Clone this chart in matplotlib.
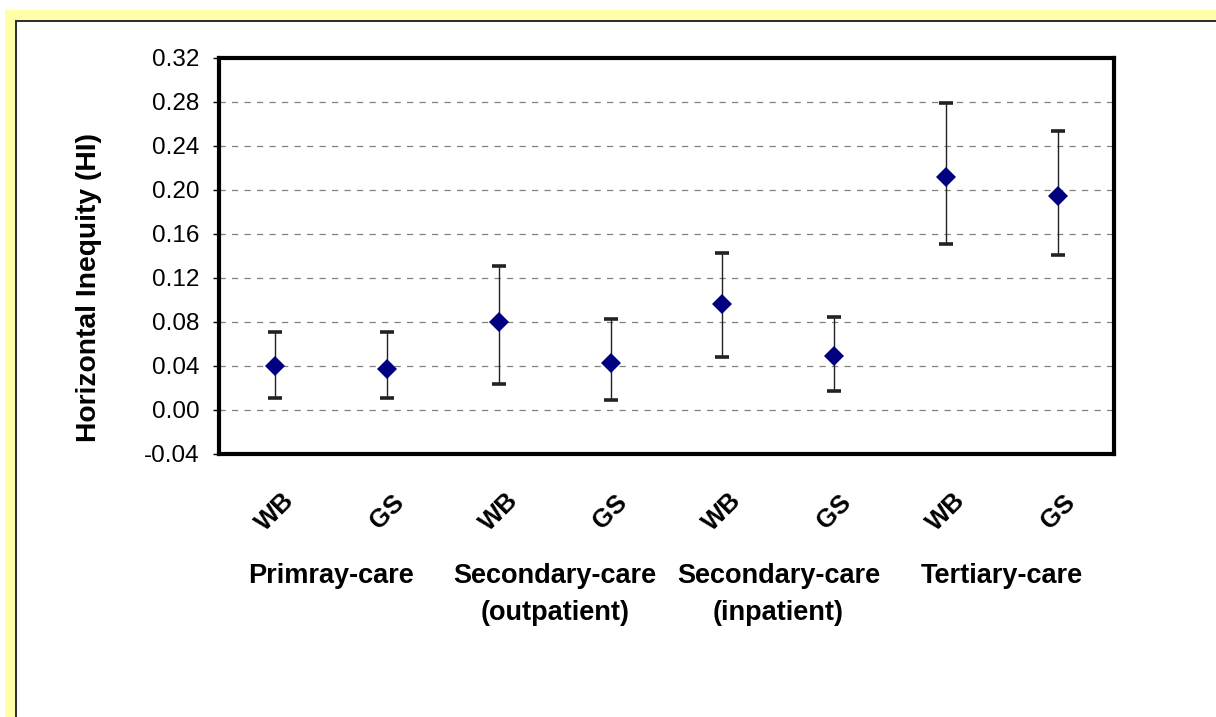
import matplotlib
matplotlib.use("Agg")
import matplotlib.pyplot as plt
import matplotlib.transforms as mtransforms
from matplotlib.patches import Rectangle

plt.rcParams['font.family'] = ['Liberation Sans', 'DejaVu Sans']

# data
series = ['WB', 'GS', 'WB', 'GS', 'WB', 'GS', 'WB', 'GS']
groups = ['Primray-care', 'Secondary-care\n(outpatient)',
          'Secondary-care\n(inpatient)', 'Tertiary-care']
hi = [0.040, 0.037, 0.080, 0.043, 0.096, 0.049, 0.212, 0.195]
lower = [0.011, 0.011, 0.024, 0.009, 0.048, 0.017, 0.151, 0.141]
upper = [0.071, 0.071, 0.131, 0.083, 0.143, 0.085, 0.279, 0.254]
yticks = [-0.04, 0.00, 0.04, 0.08, 0.12, 0.16, 0.20, 0.24, 0.28, 0.32]

W, H = 1216, 717
fig = plt.figure(figsize=(W / 100, H / 100), dpi=100)
fig.patch.set_facecolor('white')

# yellow frame strips (top and left) like the excel chart area edge
yellow = '#ffffa8'
fig.add_artist(Rectangle((5 / W, 1 - 20 / H), 1, 10 / H, transform=fig.transFigure,
                         facecolor=yellow, edgecolor='none'))
fig.add_artist(Rectangle((5 / W, 0), 10 / W, 1 - 10 / H, transform=fig.transFigure,
                         facecolor=yellow, edgecolor='none'))
fig.add_artist(Rectangle((15 / W, 1 - 21.5 / H), 1, 1.5 / H, transform=fig.transFigure,
                         facecolor='#303030', edgecolor='none'))
fig.add_artist(Rectangle((15 / W, 0), 1.7 / W, 1 - 20 / H, transform=fig.transFigure,
                         facecolor='#303030', edgecolor='none'))

left, right, top, bottom = 219, 1114, 58, 454
ax = fig.add_axes([left / W, 1 - bottom / H, (right - left) / W, (bottom - top) / H])

x = list(range(len(hi)))
yerr = [[h - l for h, l in zip(hi, lower)], [u - h for h, u in zip(hi, upper)]]
ax.errorbar(x, hi, yerr=yerr, fmt='none', ecolor='#222222', elinewidth=1,
            capsize=5, capthick=2.6, zorder=3)
ax.plot(x, hi, 'D', color='#000080', markersize=10.5, markeredgewidth=0, zorder=4)

ax.set_xlim(-0.5, len(hi) - 0.5)
ax.set_ylim(-0.04, 0.32)
ax.set_yticks(yticks)
ax.set_yticklabels([f'{t:.2f}' for t in yticks], fontsize=17.5)
ax.set_xticks([])
ax.tick_params(axis='y', direction='out', length=4, width=1, pad=10)
ax.yaxis.grid(True, linestyle=(0, (5, 5)), color='#808080', linewidth=0.9)
ax.set_axisbelow(True)
for s in ax.spines.values():
    s.set_linewidth(3)

trans = mtransforms.blended_transform_factory(ax.transData, fig.transFigure)
for i, s in enumerate(series):
    ax.text(i, 1 - 512 / H, s, transform=trans, rotation=45, rotation_mode='anchor',
            ha='center', va='center', fontsize=18.5, fontweight='bold')
for j, g in enumerate(groups):
    ax.text(2 * j + 0.5, 1 - 563 / H, g, transform=trans, ha='center', va='top',
            fontsize=19.5, fontweight='bold', linespacing=1.55)

fig.text(89 / W, 1 - 288 / H, 'Horizontal Inequity (HI)', rotation=90,
         ha='center', va='center', fontsize=20.3, fontweight='bold')

fig.savefig('out.png', dpi=100)
